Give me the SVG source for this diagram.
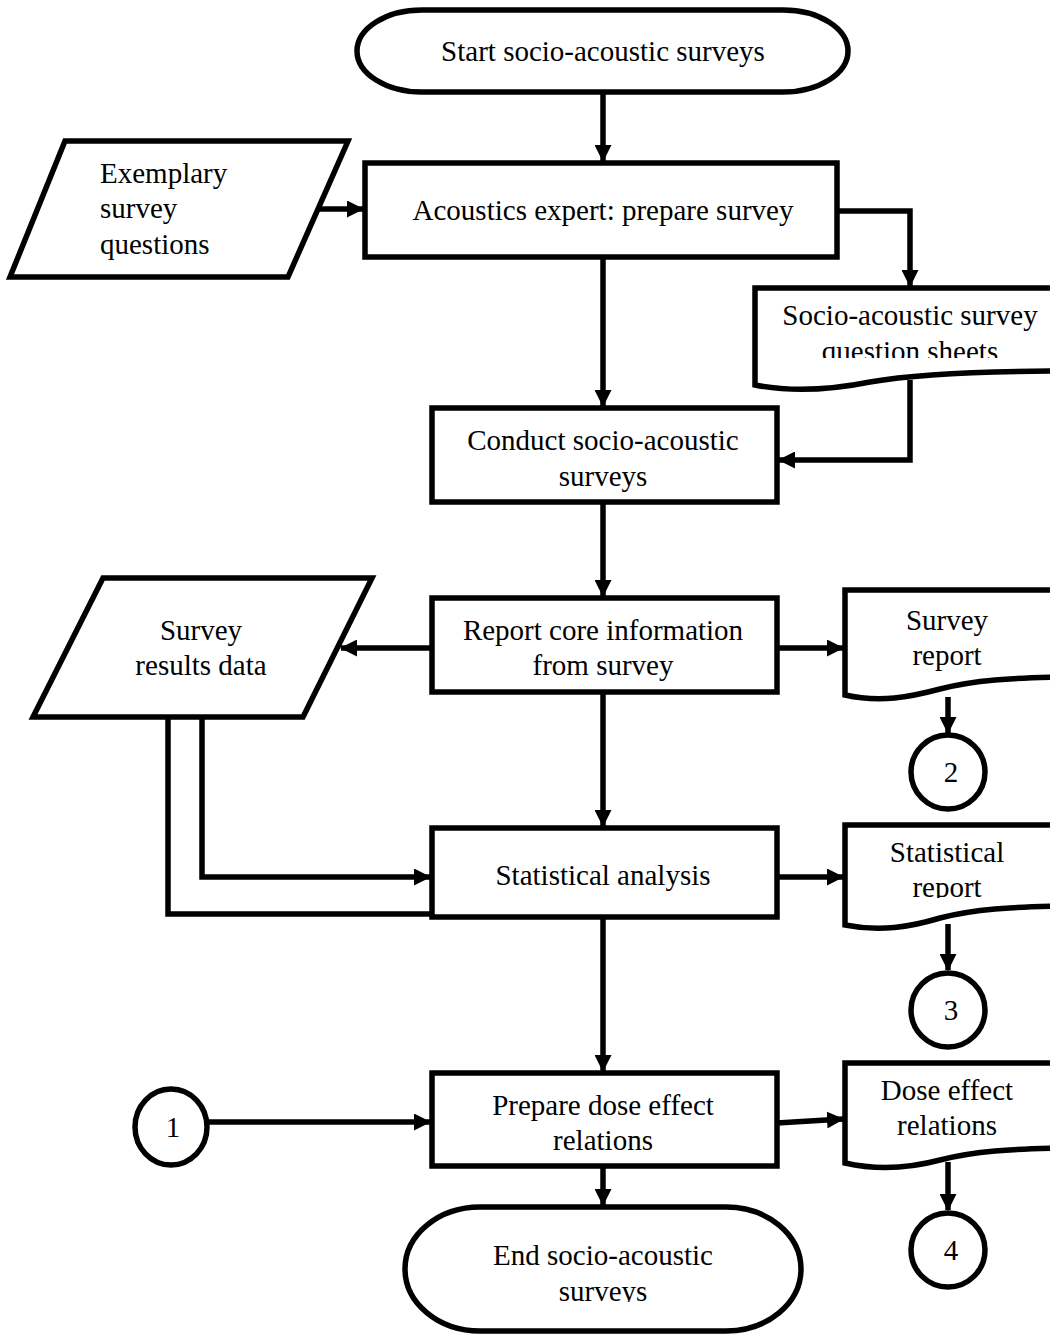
<svg xmlns="http://www.w3.org/2000/svg" width="1050" height="1335" viewBox="0 0 1050 1335">
  <style>
    .shape { fill: #ffffff; stroke: #000000; stroke-width: 5.5; stroke-linejoin: miter; }
    .line { fill: none; stroke: #000000; stroke-width: 5.5; }
    .arrow { fill: none; stroke: #000000; stroke-width: 5.5; marker-end: url(#head); }
    text { font-family: "Liberation Serif", "Times New Roman", serif; font-size: 29px; fill: #000000; }
    .c { text-anchor: middle; }
  </style>
  <defs>
    <marker id="head" markerUnits="userSpaceOnUse" markerWidth="17" markerHeight="17" refX="16" refY="8.5" orient="auto">
      <path d="M0,0 L17,8.5 L0,17 Z" fill="#000000"/>
    </marker>
    <clipPath id="clipSheets"><rect x="740" y="290" width="320" height="68"/></clipPath>
    <clipPath id="clipStat"><rect x="845" y="825" width="220" height="73"/></clipPath>
    <clipPath id="clipEnd"><rect x="405" y="1210" width="400" height="92"/></clipPath>
  </defs>
  <rect width="1050" height="1335" fill="#ffffff"/>

  <!-- connectors -->
  <g id="connectors">
    <path class="arrow" d="M603,93 V161"/>
    <path class="arrow" d="M314,209 H363"/>
    <path class="arrow" d="M837,211 H910 V286"/>
    <path class="arrow" d="M603,258 V406"/>
    <path class="arrow" d="M910,380 V460 H779"/>
    <path class="arrow" d="M603,503 V596"/>
    <path class="arrow" d="M432,648 H341"/>
    <path class="arrow" d="M777,648 H843"/>
    <path class="arrow" d="M948,697 V733"/>
    <path class="arrow" d="M603,693 V826"/>
    <path class="arrow" d="M202,717 V877 H430"/>
    <path class="line" d="M168,717 V914 H432"/>
    <path class="arrow" d="M777,877 H843"/>
    <path class="arrow" d="M948,924 V970"/>
    <path class="arrow" d="M603,918 V1071"/>
    <path class="arrow" d="M208,1122 H430"/>
    <path class="arrow" d="M777,1123 L843,1119"/>
    <path class="arrow" d="M948,1162 V1210"/>
    <path class="arrow" d="M603,1167 V1205"/>
  </g>

  <!-- start terminator -->
  <g id="start">
    <rect class="shape" x="357" y="10" width="491" height="82" rx="65" ry="41"/>
    <text class="c" x="603" y="61">Start socio-acoustic surveys</text>
  </g>

  <!-- exemplary survey questions (data) -->
  <g id="exemplary">
    <path class="shape" d="M65,141 H348 L288,277 H10 Z"/>
    <text x="100" y="183">Exemplary</text>
    <text x="100" y="218">survey</text>
    <text x="100" y="254">questions</text>
  </g>

  <!-- acoustics expert -->
  <g id="prepare">
    <rect class="shape" x="365" y="163" width="472" height="94"/>
    <text class="c" x="603" y="220">Acoustics expert: prepare survey</text>
  </g>

  <!-- question sheets document -->
  <g id="sheets">
    <path class="shape" d="M755,288 H1065 V371 C990,371 920,373 870,382 C830,390 790,392 755,385 Z"/>
    <g clip-path="url(#clipSheets)">
      <text class="c" x="910" y="325">Socio-acoustic survey</text>
      <text class="c" x="910" y="361">question sheets</text>
    </g>
  </g>

  <!-- conduct surveys -->
  <g id="conduct">
    <rect class="shape" x="432" y="408" width="345" height="94"/>
    <text class="c" x="603" y="450">Conduct socio-acoustic</text>
    <text class="c" x="603" y="486">surveys</text>
  </g>

  <!-- report core information -->
  <g id="report">
    <rect class="shape" x="432" y="598" width="345" height="94"/>
    <text class="c" x="603" y="640">Report core information</text>
    <text class="c" x="603" y="675">from survey</text>
  </g>

  <!-- survey results data -->
  <g id="results">
    <path class="shape" d="M103,578 H372 L303,717 H33 Z"/>
    <text class="c" x="201" y="640">Survey</text>
    <text class="c" x="201" y="675">results data</text>
  </g>

  <!-- survey report document -->
  <g id="surveyReport">
    <path class="shape" d="M845,590 H1065 V677 C1010,678 975,680 940,689 C910,697 880,703 845,695 Z"/>
    <text class="c" x="947" y="630">Survey</text>
    <text class="c" x="947" y="665">report</text>
  </g>

  <g id="conn2">
    <circle class="shape" cx="948" cy="772" r="37"/>
    <text class="c" x="951" y="782">2</text>
  </g>

  <!-- statistical analysis -->
  <g id="statistics">
    <rect class="shape" x="432" y="828" width="345" height="89"/>
    <text class="c" x="603" y="885">Statistical analysis</text>
  </g>

  <!-- statistical report document -->
  <g id="statReport">
    <path class="shape" d="M845,825 H1065 V906 C1010,907 975,909 940,918 C910,927 880,932 845,925 Z"/>
    <g clip-path="url(#clipStat)">
      <text class="c" x="947" y="862">Statistical</text>
      <text class="c" x="947" y="897">report</text>
    </g>
  </g>

  <g id="conn3">
    <circle class="shape" cx="948" cy="1010" r="37"/>
    <text class="c" x="951" y="1020">3</text>
  </g>

  <!-- dose effect relations -->
  <g id="dose">
    <rect class="shape" x="432" y="1073" width="345" height="93"/>
    <text class="c" x="603" y="1115">Prepare dose effect</text>
    <text class="c" x="603" y="1150">relations</text>
  </g>

  <g id="conn1">
    <ellipse class="shape" cx="171" cy="1127" rx="36" ry="38"/>
    <text class="c" x="173" y="1137">1</text>
  </g>

  <!-- dose effect document -->
  <g id="doseDoc">
    <path class="shape" d="M845,1063 H1065 V1148 C1010,1149 975,1151 940,1160 C910,1168 880,1171 845,1163 Z"/>
    <text class="c" x="947" y="1100">Dose effect</text>
    <text class="c" x="947" y="1135">relations</text>
  </g>

  <g id="conn4">
    <circle class="shape" cx="948" cy="1250" r="37"/>
    <text class="c" x="951" y="1260">4</text>
  </g>

  <!-- end terminator -->
  <g id="end">
    <rect class="shape" x="405" y="1207" width="396" height="124" rx="75" ry="62"/>
    <g clip-path="url(#clipEnd)">
      <text class="c" x="603" y="1265">End socio-acoustic</text>
      <text class="c" x="603" y="1301">surveys</text>
    </g>
  </g>
</svg>
